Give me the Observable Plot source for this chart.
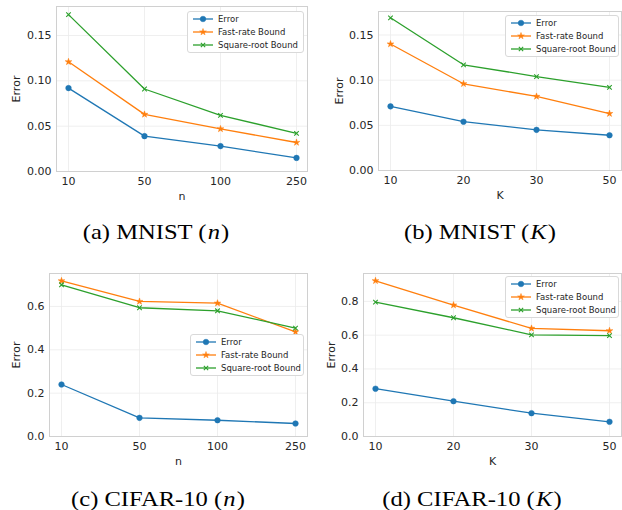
<!DOCTYPE html>
<html><head><meta charset="utf-8">
<script src="https://cdn.jsdelivr.net/npm/d3@7"></script>
<script src="https://cdn.jsdelivr.net/npm/@observablehq/plot@0.6"></script>
<style>
body{margin:0;background:#fff;}
#fig{position:relative;width:622px;height:510px;overflow:hidden;background:#fff;}
.panel{position:absolute;}
.cap{position:absolute;font-family:"Liberation Serif","Times New Roman",serif;font-size:21px;color:#000;white-space:nowrap;transform:translateX(-50%) scaleX(1.17);line-height:1;}
.cap i{font-style:italic;padding:0 1px;}
.legend{position:absolute;background:#fff;border:1px solid #d9d9d9;border-radius:3px;font-family:"DejaVu Sans";font-size:8.5px;color:#262626;padding:1px 4px 1px 5px;box-sizing:border-box;}
.row{display:flex;align-items:center;height:12.7px;white-space:nowrap;}
.row svg{margin-right:5px;flex:none;}
</style></head><body><div id="fig"></div>
<script>
// ---- data ----
const nTicks = ["10","50","100","250"];
const kTicks = ["10","20","30","50"];
const seriesNames = ["Error","Fast-rate Bound","Square-root Bound"];
const seriesColors = ["#1f77b4","#ff7f0e","#2ca02c"];
const seriesSymbols = ["circle","star","times"];

const mnistN_error = [0.092, 0.039, 0.028, 0.015];
const mnistN_fast  = [0.121, 0.063, 0.047, 0.032];
const mnistN_sqrt  = [0.173, 0.091, 0.062, 0.042];

const mnistK_error = [0.071, 0.054, 0.045, 0.039];
const mnistK_fast  = [0.140, 0.096, 0.082, 0.063];
const mnistK_sqrt  = [0.169, 0.117, 0.104, 0.092];

const cifarN_error = [0.240, 0.086, 0.075, 0.060];
const cifarN_fast  = [0.718, 0.623, 0.615, 0.483];
const cifarN_sqrt  = [0.700, 0.594, 0.580, 0.500];

const cifarK_error = [0.283, 0.209, 0.138, 0.087];
const cifarK_fast  = [0.922, 0.778, 0.640, 0.626];
const cifarK_sqrt  = [0.796, 0.703, 0.602, 0.597];

const yTicksMnist = [0, 0.05, 0.10, 0.15];
const yTicksCifarN = [0, 0.2, 0.4, 0.6];
const yTicksCifarK = [0, 0.2, 0.4, 0.6, 0.8];

const captions = [
  ["(a) MNIST (", "n", ")"],
  ["(b) MNIST (", "K", ")"],
  ["(c) CIFAR-10 (", "n", ")"],
  ["(d) CIFAR-10 (", "K", ")"]
];

// ---- layout ----
const panels = [
  {x: nTicks, xLabel: "n", series: [mnistN_error, mnistN_fast, mnistN_sqrt], yMax: 0.182, yTicks: yTicksMnist, yFmt: ".2f",
   box: {l: 0, t: 0, w: 311, h: 205}, frame: {l: 56, r: 307, t: 6, b: 171}, yLabOff: 44, legend: {x: 187, y: 11, w: 117}, cap: {x: 156, y: 222}},
  {x: kTicks, xLabel: "K", series: [mnistK_error, mnistK_fast, mnistK_sqrt], yMax: 0.176, yTicks: yTicksMnist, yFmt: ".2f",
   box: {l: 311, t: 0, w: 311, h: 205}, frame: {l: 378, r: 621, t: 11, b: 170}, yLabOff: 43, legend: {x: 505, y: 15, w: 114}, cap: {x: 480, y: 222}},
  {x: nTicks, xLabel: "n", series: [cifarN_error, cifarN_fast, cifarN_sqrt], yMax: 0.752, yTicks: yTicksCifarN, yFmt: ".1f",
   box: {l: 0, t: 255, w: 311, h: 215}, frame: {l: 49, r: 307, t: 273, b: 436}, yLabOff: 37, legend: {x: 190, y: 334, w: 114}, cap: {x: 158, y: 489}},
  {x: kTicks, xLabel: "K", series: [cifarK_error, cifarK_fast, cifarK_sqrt], yMax: 0.965, yTicks: yTicksCifarK, yFmt: ".1f",
   box: {l: 311, t: 255, w: 311, h: 215}, frame: {l: 363, r: 621, t: 273, b: 436}, yLabOff: 36, legend: {x: 505, y: 276, w: 114}, cap: {x: 472, y: 489}}
];

const fig = document.getElementById("fig");

panels.forEach((p, pi) => {
  const rows = [];
  p.series.forEach((vals, si) => vals.forEach((v, i) => rows.push({x: p.x[i], y: v, s: seriesNames[si]})));
  const fr = p.frame, b = p.box;
  const marks = [
    Plot.gridY(p.yTicks, {stroke: "#ebebeb", strokeOpacity: 1, strokeWidth: 0.8}),
    Plot.gridX(p.x, {stroke: "#ebebeb", strokeOpacity: 1, strokeWidth: 0.8}),
    Plot.frame({stroke: "#d0d0d0", strokeWidth: 1}),
    Plot.axisY(p.yTicks, {tickSize: 0, tickPadding: 5, tickFormat: d3.format(p.yFmt), label: "Error", labelAnchor: "center", labelArrow: "none", labelOffset: p.yLabOff, fill: "#262626"}),
    Plot.axisX(p.x, {tickSize: 0, tickPadding: 6, label: p.xLabel, labelAnchor: "center", labelArrow: "none", labelOffset: 28, fill: "#262626"})
  ];
  seriesNames.forEach((name, si) => {
    const data = rows.filter(r => r.s === name);
    marks.push(Plot.line(data, {x: "x", y: "y", stroke: seriesColors[si], strokeWidth: 1.3}));
    const sym = seriesSymbols[si];
    marks.push(Plot.dot(data, {x: "x", y: "y", symbol: sym, r: sym === "circle" ? 2.8 : (sym === "star" ? 2.1 : 2.2),
      fill: sym === "times" ? "none" : seriesColors[si], stroke: seriesColors[si], strokeWidth: sym === "times" ? 1.1 : 0.5}));
  });
  const chart = Plot.plot({
    width: b.w, height: b.h,
    marginLeft: fr.l - b.l, marginRight: b.l + b.w - fr.r,
    marginTop: fr.t - b.t, marginBottom: b.t + b.h - fr.b,
    style: {fontFamily: "DejaVu Sans", fontSize: "11px", background: "transparent", color: "#262626"},
    x: {type: "point", domain: p.x, padding: 0.15},
    y: {domain: [0, p.yMax]},
    marks
  });
  const wrap = document.createElement("div");
  wrap.className = "panel";
  wrap.style.left = b.l + "px"; wrap.style.top = b.t + "px";
  wrap.appendChild(chart);
  fig.appendChild(wrap);

  // legend
  const lg = document.createElement("div");
  lg.className = "legend";
  lg.style.left = p.legend.x + "px"; lg.style.top = p.legend.y + "px"; lg.style.width = p.legend.w + "px";
  seriesNames.forEach((name, si) => {
    const row = document.createElement("div");
    row.className = "row";
    const svg = d3.create("svg").attr("width", 20).attr("height", 10);
    svg.append("line").attr("x1", 0).attr("x2", 20).attr("y1", 5).attr("y2", 5).attr("stroke", seriesColors[si]).attr("stroke-width", 1.3);
    const symType = [d3.symbolCircle, d3.symbolStar, d3.symbolTimes][si];
    const size = si === 0 ? Math.PI * 2.8 * 2.8 : 14;
    svg.append("path").attr("d", d3.symbol(symType, size)()).attr("transform", "translate(10,5)")
      .attr("fill", si === 2 ? "none" : seriesColors[si]).attr("stroke", seriesColors[si]).attr("stroke-width", si === 2 ? 1.1 : 0.5);
    row.appendChild(svg.node());
    const t = document.createElement("span");
    t.textContent = name;
    row.appendChild(t);
    lg.appendChild(row);
  });
  fig.appendChild(lg);

  // caption
  const c = document.createElement("div");
  c.className = "cap";
  c.style.left = p.cap.x + "px"; c.style.top = p.cap.y + "px";
  const [pre, v, post] = captions[pi];
  c.append(pre);
  const it = document.createElement("i"); it.textContent = v; c.append(it);
  c.append(post);
  fig.appendChild(c);
});
</script>
</body></html>
